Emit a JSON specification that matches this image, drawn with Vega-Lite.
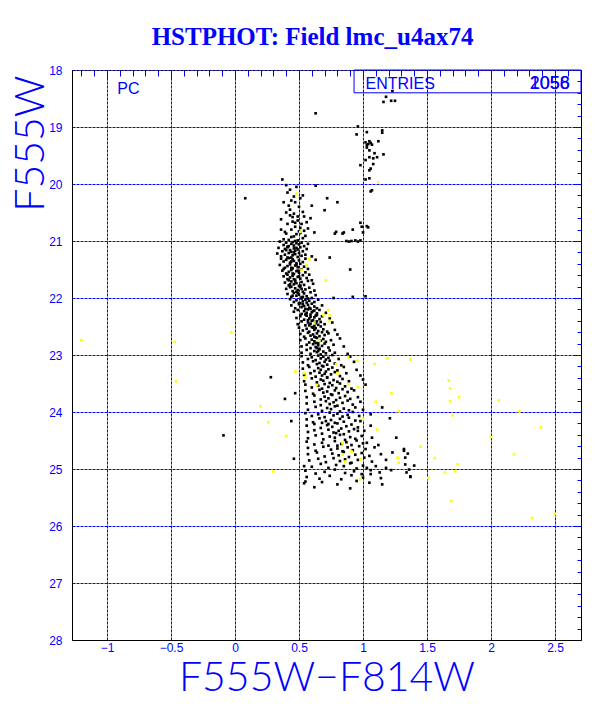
{
"$schema": "https://vega.github.io/schema/vega-lite/v6.json",
"width": 509, "height": 570,
"autosize": "none",
"padding": {"left": 72, "top": 70, "right": 31, "bottom": 69},
"background": "white",
"title": {"text": "HSTPHOT: Field lmc_u4ax74", "font": "Liberation Serif", "fontSize": 25, "fontWeight": "bold", "color": "#0000ff", "anchor": "middle", "dx": -14, "offset": -6, "baseline": "alphabetic"},
"datasets": {
"black": [
{"c":1.23,"m":18.37},{"c":1.18,"m":18.47},{"c":1.16,"m":18.56},{"c":1.22,"m":18.54},{"c":1.25,"m":18.54},{"c":0.63,"m":18.76},
{"c":0.96,"m":18.99},{"c":1.03,"m":19.09},{"c":1.15,"m":19.06},{"c":1.15,"m":19.10},{"c":0.95,"m":19.13},{"c":1.02,"m":19.27},{"c":1.04,"m":19.30},{"c":1.06,"m":19.28},{"c":1.03,"m":19.32},{"c":1.05,"m":19.25},{"c":1.07,"m":19.31},{"c":1.12,"m":19.25},{"c":1.03,"m":19.36},{"c":1.05,"m":19.41},{"c":1.09,"m":19.46},{"c":1.16,"m":19.48},{"c":1.05,"m":19.53},{"c":1.08,"m":19.55},{"c":1.02,"m":19.58},{"c":1.11,"m":19.53},{"c":1.08,"m":19.65},{"c":0.98,"m":19.67},{"c":1.06,"m":19.73},{"c":1.05,"m":19.76},{"c":1.02,"m":19.92},{"c":1.05,"m":19.90},{"c":1.06,"m":20.13},{"c":1.07,"m":20.11},
{"c":0.98,"m":20.68},{"c":0.99,"m":20.75},{"c":1.04,"m":20.76},{"c":1.00,"m":20.85},{"c":1.03,"m":20.74},{"c":0.84,"m":20.87},{"c":0.92,"m":20.80},{"c":0.78,"m":20.87},{"c":0.85,"m":20.85},{"c":0.87,"m":21.00},{"c":0.91,"m":21.00},{"c":0.94,"m":20.99},{"c":0.98,"m":20.99},{"c":0.96,"m":21.01},{"c":0.89,"m":21.01},
{"c":0.63,"m":20.03},{"c":0.72,"m":20.25},{"c":0.80,"m":20.32},{"c":0.70,"m":20.46},{"c":0.60,"m":20.38},{"c":0.79,"m":20.84},{"c":0.74,"m":21.29},{"c":0.90,"m":21.50},{"c":0.77,"m":22.00},{"c":0.92,"m":21.98},{"c":1.02,"m":21.97},{"c":0.08,"m":20.25},{"c":-0.09,"m":24.41},{"c":0.28,"m":23.39},{"c":0.39,"m":23.77},
{"c":0.37,"m":19.92},{"c":0.48,"m":20.05},{"c":0.43,"m":20.10},{"c":0.40,"m":20.02},{"c":0.53,"m":20.20},{"c":0.46,"m":20.22},{"c":0.41,"m":20.15},{"c":0.51,"m":20.25},{"c":0.44,"m":20.29},{"c":0.47,"m":20.32},{"c":0.38,"m":20.32},{"c":0.42,"m":20.38},{"c":0.50,"m":20.40},{"c":0.43,"m":20.45},{"c":0.40,"m":20.50},{"c":0.53,"m":20.49},{"c":0.46,"m":20.52},{"c":0.49,"m":20.57},{"c":0.54,"m":20.57},{"c":0.45,"m":20.58},{"c":0.59,"m":20.60},{"c":0.36,"m":20.62},{"c":0.49,"m":20.64},{"c":0.45,"m":20.66},{"c":0.56,"m":20.67},{"c":0.41,"m":20.70},{"c":0.52,"m":20.70},{"c":0.47,"m":20.75},{"c":0.51,"m":20.77},{"c":0.44,"m":20.80},{"c":0.36,"m":20.80},{"c":0.54,"m":20.82},{"c":0.62,"m":20.85},{"c":0.51,"m":20.86},{"c":0.40,"m":20.87},{"c":0.48,"m":20.88},{"c":0.55,"m":20.91},{"c":0.46,"m":20.92},{"c":0.53,"m":20.95},{"c":0.38,"m":20.97},{"c":0.42,"m":20.98},{"c":0.49,"m":20.99},{"c":0.44,"m":20.93},{"c":0.39,"m":20.84},{"c":0.47,"m":20.68},{"c":0.43,"m":20.55},{"c":0.50,"m":20.83},{"c":0.57,"m":20.78},
{"c":0.35,"m":21.01},{"c":0.38,"m":21.07},{"c":0.40,"m":21.03},{"c":0.42,"m":21.09},{"c":0.44,"m":21.05},{"c":0.45,"m":21.02},{"c":0.46,"m":21.08},{"c":0.48,"m":21.04},{"c":0.50,"m":21.06},{"c":0.52,"m":21.03},{"c":0.54,"m":21.09},{"c":0.57,"m":21.05},{"c":0.41,"m":21.10},{"c":0.47,"m":21.00},
{"c":0.34,"m":21.12},{"c":0.37,"m":21.18},{"c":0.39,"m":21.14},{"c":0.41,"m":21.11},{"c":0.43,"m":21.16},{"c":0.44,"m":21.19},{"c":0.46,"m":21.13},{"c":0.47,"m":21.17},{"c":0.49,"m":21.15},{"c":0.51,"m":21.11},{"c":0.53,"m":21.18},{"c":0.56,"m":21.14},{"c":0.40,"m":21.16},{"c":0.48,"m":21.12},
{"c":0.33,"m":21.22},{"c":0.36,"m":21.27},{"c":0.39,"m":21.24},{"c":0.42,"m":21.21},{"c":0.44,"m":21.29},{"c":0.45,"m":21.25},{"c":0.47,"m":21.23},{"c":0.49,"m":21.28},{"c":0.50,"m":21.21},{"c":0.52,"m":21.26},{"c":0.55,"m":21.24},{"c":0.60,"m":21.27},{"c":0.41,"m":21.29},{"c":0.46,"m":21.20},
{"c":0.36,"m":21.31},{"c":0.38,"m":21.36},{"c":0.40,"m":21.33},{"c":0.43,"m":21.38},{"c":0.45,"m":21.32},{"c":0.46,"m":21.35},{"c":0.48,"m":21.39},{"c":0.50,"m":21.34},{"c":0.53,"m":21.37},{"c":0.55,"m":21.31},{"c":0.44,"m":21.36},{"c":0.42,"m":21.30},{"c":0.63,"m":21.33},
{"c":0.35,"m":21.42},{"c":0.39,"m":21.47},{"c":0.41,"m":21.44},{"c":0.43,"m":21.41},{"c":0.45,"m":21.48},{"c":0.47,"m":21.43},{"c":0.49,"m":21.46},{"c":0.51,"m":21.40},{"c":0.54,"m":21.45},{"c":0.57,"m":21.49},{"c":0.44,"m":21.47},{"c":0.48,"m":21.42},{"c":0.38,"m":21.49},
{"c":0.37,"m":21.52},{"c":0.40,"m":21.57},{"c":0.42,"m":21.54},{"c":0.44,"m":21.51},{"c":0.46,"m":21.58},{"c":0.48,"m":21.53},{"c":0.50,"m":21.56},{"c":0.52,"m":21.50},{"c":0.55,"m":21.55},{"c":0.58,"m":21.59},{"c":0.45,"m":21.57},{"c":0.49,"m":21.52},{"c":0.41,"m":21.59},
{"c":0.38,"m":21.62},{"c":0.41,"m":21.67},{"c":0.43,"m":21.64},{"c":0.45,"m":21.61},{"c":0.47,"m":21.68},{"c":0.49,"m":21.63},{"c":0.51,"m":21.66},{"c":0.53,"m":21.60},{"c":0.56,"m":21.65},{"c":0.60,"m":21.69},{"c":0.46,"m":21.67},{"c":0.50,"m":21.62},{"c":0.42,"m":21.69},
{"c":0.39,"m":21.73},{"c":0.42,"m":21.78},{"c":0.44,"m":21.71},{"c":0.46,"m":21.76},{"c":0.48,"m":21.74},{"c":0.50,"m":21.79},{"c":0.52,"m":21.72},{"c":0.54,"m":21.77},{"c":0.57,"m":21.70},{"c":0.61,"m":21.75},{"c":0.47,"m":21.71},{"c":0.51,"m":21.78},{"c":0.43,"m":21.76},
{"c":0.40,"m":21.84},{"c":0.43,"m":21.81},{"c":0.45,"m":21.88},{"c":0.47,"m":21.83},{"c":0.49,"m":21.86},{"c":0.51,"m":21.80},{"c":0.53,"m":21.89},{"c":0.55,"m":21.85},{"c":0.58,"m":21.82},{"c":0.62,"m":21.87},{"c":0.48,"m":21.89},{"c":0.52,"m":21.84},{"c":0.44,"m":21.80},
{"c":0.41,"m":21.93},{"c":0.44,"m":21.98},{"c":0.46,"m":21.91},{"c":0.48,"m":21.96},{"c":0.50,"m":21.94},{"c":0.52,"m":21.99},{"c":0.54,"m":21.92},{"c":0.56,"m":21.97},{"c":0.59,"m":21.90},{"c":0.63,"m":21.95},{"c":0.49,"m":21.91},{"c":0.53,"m":21.98},{"c":0.45,"m":21.96},
{"c":0.43,"m":22.02},{"c":0.46,"m":22.07},{"c":0.48,"m":22.04},{"c":0.50,"m":22.09},{"c":0.52,"m":22.01},{"c":0.53,"m":22.06},{"c":0.55,"m":22.03},{"c":0.56,"m":22.08},{"c":0.58,"m":22.05},{"c":0.60,"m":22.00},{"c":0.62,"m":22.07},{"c":0.65,"m":22.03},{"c":0.51,"m":22.09},{"c":0.57,"m":22.01},
{"c":0.44,"m":22.13},{"c":0.47,"m":22.18},{"c":0.50,"m":22.11},{"c":0.52,"m":22.16},{"c":0.54,"m":22.14},{"c":0.55,"m":22.19},{"c":0.57,"m":22.12},{"c":0.58,"m":22.17},{"c":0.60,"m":22.10},{"c":0.62,"m":22.15},{"c":0.64,"m":22.18},{"c":0.68,"m":22.13},{"c":0.53,"m":22.11},{"c":0.59,"m":22.19},
{"c":0.46,"m":22.24},{"c":0.49,"m":22.21},{"c":0.52,"m":22.28},{"c":0.54,"m":22.23},{"c":0.56,"m":22.26},{"c":0.57,"m":22.20},{"c":0.59,"m":22.29},{"c":0.60,"m":22.25},{"c":0.62,"m":22.22},{"c":0.64,"m":22.27},{"c":0.66,"m":22.21},{"c":0.71,"m":22.26},{"c":0.55,"m":22.29},{"c":0.61,"m":22.23},
{"c":0.48,"m":22.35},{"c":0.51,"m":22.32},{"c":0.54,"m":22.38},{"c":0.56,"m":22.31},{"c":0.58,"m":22.36},{"c":0.59,"m":22.33},{"c":0.61,"m":22.39},{"c":0.62,"m":22.34},{"c":0.64,"m":22.30},{"c":0.66,"m":22.37},{"c":0.68,"m":22.32},{"c":0.74,"m":22.36},{"c":0.57,"m":22.39},{"c":0.63,"m":22.31},
{"c":0.49,"m":22.46},{"c":0.52,"m":22.41},{"c":0.55,"m":22.48},{"c":0.57,"m":22.43},{"c":0.59,"m":22.45},{"c":0.60,"m":22.40},{"c":0.62,"m":22.49},{"c":0.63,"m":22.44},{"c":0.65,"m":22.47},{"c":0.67,"m":22.42},{"c":0.70,"m":22.46},{"c":0.76,"m":22.43},{"c":0.58,"m":22.48},{"c":0.64,"m":22.41},
{"c":0.50,"m":22.52},{"c":0.53,"m":22.57},{"c":0.56,"m":22.54},{"c":0.58,"m":22.59},{"c":0.60,"m":22.51},{"c":0.62,"m":22.56},{"c":0.63,"m":22.53},{"c":0.65,"m":22.58},{"c":0.67,"m":22.50},{"c":0.69,"m":22.55},{"c":0.72,"m":22.59},{"c":0.61,"m":22.52},{"c":0.78,"m":22.56},
{"c":0.51,"m":22.63},{"c":0.54,"m":22.68},{"c":0.57,"m":22.61},{"c":0.59,"m":22.66},{"c":0.61,"m":22.64},{"c":0.63,"m":22.69},{"c":0.64,"m":22.62},{"c":0.66,"m":22.67},{"c":0.68,"m":22.60},{"c":0.70,"m":22.65},{"c":0.73,"m":22.62},{"c":0.62,"m":22.68},{"c":0.80,"m":22.64},
{"c":0.51,"m":22.74},{"c":0.55,"m":22.71},{"c":0.58,"m":22.78},{"c":0.60,"m":22.73},{"c":0.62,"m":22.76},{"c":0.64,"m":22.70},{"c":0.65,"m":22.79},{"c":0.67,"m":22.75},{"c":0.69,"m":22.72},{"c":0.71,"m":22.77},{"c":0.75,"m":22.74},{"c":0.63,"m":22.79},{"c":0.82,"m":22.71},
{"c":0.52,"m":22.85},{"c":0.56,"m":22.82},{"c":0.59,"m":22.88},{"c":0.61,"m":22.81},{"c":0.63,"m":22.86},{"c":0.65,"m":22.83},{"c":0.66,"m":22.89},{"c":0.68,"m":22.84},{"c":0.70,"m":22.80},{"c":0.73,"m":22.87},{"c":0.77,"m":22.82},{"c":0.64,"m":22.88},{"c":0.85,"m":22.85},
{"c":0.52,"m":22.96},{"c":0.56,"m":22.91},{"c":0.59,"m":22.98},{"c":0.62,"m":22.93},{"c":0.64,"m":22.95},{"c":0.66,"m":22.90},{"c":0.67,"m":22.99},{"c":0.69,"m":22.94},{"c":0.71,"m":22.97},{"c":0.74,"m":22.92},{"c":0.78,"m":22.96},{"c":0.65,"m":22.93},{"c":0.88,"m":22.98},
{"c":0.52,"m":23.02},{"c":0.57,"m":23.07},{"c":0.60,"m":23.04},{"c":0.63,"m":23.09},{"c":0.65,"m":23.01},{"c":0.67,"m":23.06},{"c":0.69,"m":23.03},{"c":0.71,"m":23.08},{"c":0.73,"m":23.05},{"c":0.76,"m":23.00},{"c":0.81,"m":23.07},{"c":0.90,"m":23.03},
{"c":0.53,"m":23.13},{"c":0.57,"m":23.18},{"c":0.61,"m":23.11},{"c":0.64,"m":23.16},{"c":0.66,"m":23.14},{"c":0.68,"m":23.19},{"c":0.70,"m":23.12},{"c":0.72,"m":23.17},{"c":0.74,"m":23.10},{"c":0.78,"m":23.15},{"c":0.83,"m":23.18},{"c":0.93,"m":23.12},
{"c":0.53,"m":23.24},{"c":0.58,"m":23.21},{"c":0.62,"m":23.28},{"c":0.65,"m":23.23},{"c":0.67,"m":23.26},{"c":0.69,"m":23.20},{"c":0.71,"m":23.29},{"c":0.73,"m":23.25},{"c":0.76,"m":23.22},{"c":0.80,"m":23.27},{"c":0.85,"m":23.21},{"c":0.95,"m":23.26},
{"c":0.54,"m":23.35},{"c":0.59,"m":23.32},{"c":0.63,"m":23.38},{"c":0.66,"m":23.31},{"c":0.68,"m":23.36},{"c":0.70,"m":23.33},{"c":0.72,"m":23.39},{"c":0.75,"m":23.34},{"c":0.78,"m":23.30},{"c":0.82,"m":23.37},{"c":0.87,"m":23.32},{"c":0.98,"m":23.36},
{"c":0.54,"m":23.46},{"c":0.60,"m":23.41},{"c":0.64,"m":23.48},{"c":0.67,"m":23.43},{"c":0.69,"m":23.45},{"c":0.72,"m":23.40},{"c":0.74,"m":23.49},{"c":0.77,"m":23.44},{"c":0.80,"m":23.47},{"c":0.84,"m":23.42},{"c":0.89,"m":23.46},{"c":1.00,"m":23.43},
{"c":0.55,"m":23.52},{"c":0.60,"m":23.57},{"c":0.65,"m":23.54},{"c":0.68,"m":23.59},{"c":0.70,"m":23.51},{"c":0.73,"m":23.56},{"c":0.76,"m":23.53},{"c":0.79,"m":23.58},{"c":0.82,"m":23.50},{"c":0.86,"m":23.55},{"c":0.91,"m":23.59},{"c":1.02,"m":23.52},
{"c":0.55,"m":23.63},{"c":0.61,"m":23.68},{"c":0.66,"m":23.61},{"c":0.69,"m":23.66},{"c":0.72,"m":23.64},{"c":0.75,"m":23.69},{"c":0.78,"m":23.62},{"c":0.81,"m":23.67},{"c":0.84,"m":23.60},{"c":0.88,"m":23.65},{"c":0.93,"m":23.62},{"c":0.47,"m":23.67},
{"c":0.56,"m":23.74},{"c":0.62,"m":23.71},{"c":0.67,"m":23.78},{"c":0.70,"m":23.73},{"c":0.73,"m":23.76},{"c":0.76,"m":23.70},{"c":0.79,"m":23.79},{"c":0.82,"m":23.75},{"c":0.86,"m":23.72},{"c":0.90,"m":23.77},{"c":0.96,"m":23.74},
{"c":0.56,"m":23.85},{"c":0.62,"m":23.82},{"c":0.67,"m":23.88},{"c":0.71,"m":23.81},{"c":0.74,"m":23.86},{"c":0.77,"m":23.83},{"c":0.80,"m":23.89},{"c":0.84,"m":23.84},{"c":0.88,"m":23.80},{"c":0.92,"m":23.87},{"c":0.98,"m":23.82},{"c":1.15,"m":23.92},
{"c":0.57,"m":23.96},{"c":0.63,"m":23.91},{"c":0.68,"m":23.98},{"c":0.72,"m":23.93},{"c":0.75,"m":23.95},{"c":0.78,"m":23.90},{"c":0.82,"m":23.99},{"c":0.85,"m":23.94},{"c":0.89,"m":23.97},{"c":0.94,"m":23.92},{"c":1.00,"m":23.96},{"c":1.06,"m":24.04},
{"c":0.55,"m":24.02},{"c":0.60,"m":24.07},{"c":0.65,"m":24.04},{"c":0.70,"m":24.09},{"c":0.74,"m":24.01},{"c":0.77,"m":24.06},{"c":0.80,"m":24.03},{"c":0.84,"m":24.08},{"c":0.88,"m":24.05},{"c":0.92,"m":24.00},{"c":0.97,"m":24.07},{"c":0.44,"m":24.16},{"c":0.98,"m":24.16},
{"c":0.56,"m":24.13},{"c":0.61,"m":24.18},{"c":0.66,"m":24.11},{"c":0.71,"m":24.16},{"c":0.75,"m":24.14},{"c":0.78,"m":24.19},{"c":0.82,"m":24.12},{"c":0.85,"m":24.17},{"c":0.89,"m":24.10},{"c":0.94,"m":24.15},{"c":1.21,"m":24.11},{"c":0.68,"m":24.19},
{"c":0.56,"m":24.24},{"c":0.62,"m":24.21},{"c":0.67,"m":24.28},{"c":0.72,"m":24.23},{"c":0.76,"m":24.26},{"c":0.80,"m":24.20},{"c":0.83,"m":24.29},{"c":0.87,"m":24.25},{"c":0.91,"m":24.22},{"c":0.96,"m":24.27},{"c":1.06,"m":24.24},{"c":0.73,"m":24.21},
{"c":0.57,"m":24.35},{"c":0.62,"m":24.32},{"c":0.68,"m":24.38},{"c":0.73,"m":24.31},{"c":0.77,"m":24.36},{"c":0.81,"m":24.33},{"c":0.85,"m":24.39},{"c":0.89,"m":24.34},{"c":0.93,"m":24.30},{"c":0.96,"m":24.33},{"c":1.01,"m":24.33},{"c":0.79,"m":24.37},
{"c":0.57,"m":24.46},{"c":0.63,"m":24.41},{"c":0.69,"m":24.48},{"c":0.74,"m":24.43},{"c":0.78,"m":24.45},{"c":0.82,"m":24.40},{"c":0.86,"m":24.49},{"c":0.90,"m":24.44},{"c":0.94,"m":24.47},{"c":0.99,"m":24.42},{"c":1.07,"m":24.45},{"c":1.26,"m":24.45},{"c":1.03,"m":24.54},
{"c":0.56,"m":24.52},{"c":0.62,"m":24.57},{"c":0.68,"m":24.54},{"c":0.73,"m":24.59},{"c":0.78,"m":24.51},{"c":0.83,"m":24.56},{"c":0.87,"m":24.53},{"c":0.91,"m":24.58},{"c":0.95,"m":24.50},{"c":1.00,"m":24.55},{"c":1.12,"m":24.58},{"c":0.80,"m":24.59},
{"c":0.57,"m":24.63},{"c":0.63,"m":24.68},{"c":0.69,"m":24.61},{"c":0.75,"m":24.66},{"c":0.80,"m":24.64},{"c":0.84,"m":24.69},{"c":0.88,"m":24.62},{"c":0.92,"m":24.67},{"c":0.97,"m":24.60},{"c":1.02,"m":24.65},{"c":1.09,"m":24.62},{"c":1.32,"m":24.65},{"c":1.23,"m":24.71},
{"c":0.57,"m":24.74},{"c":0.64,"m":24.71},{"c":0.70,"m":24.78},{"c":0.76,"m":24.73},{"c":0.81,"m":24.76},{"c":0.85,"m":24.70},{"c":0.89,"m":24.79},{"c":0.94,"m":24.75},{"c":0.99,"m":24.72},{"c":1.05,"m":24.77},{"c":1.14,"m":24.74},{"c":1.35,"m":24.73},{"c":1.32,"m":24.68},
{"c":0.46,"m":24.82},{"c":0.58,"m":24.85},{"c":0.65,"m":24.82},{"c":0.71,"m":24.88},{"c":0.77,"m":24.81},{"c":0.82,"m":24.86},{"c":0.86,"m":24.83},{"c":0.91,"m":24.89},{"c":0.96,"m":24.84},{"c":1.01,"m":24.80},{"c":1.07,"m":24.87},{"c":1.18,"m":24.84},{"c":1.33,"m":24.80},
{"c":0.54,"m":24.95},{"c":0.60,"m":24.96},{"c":0.67,"m":24.91},{"c":0.73,"m":24.98},{"c":0.79,"m":24.93},{"c":0.85,"m":24.95},{"c":0.90,"m":24.90},{"c":0.95,"m":24.99},{"c":1.00,"m":24.94},{"c":1.03,"m":24.98},{"c":1.10,"m":24.95},{"c":1.18,"m":24.98},{"c":1.40,"m":24.94},{"c":1.33,"m":24.92},
{"c":0.55,"m":25.03},{"c":0.63,"m":25.08},{"c":0.70,"m":25.05},{"c":0.78,"m":25.01},{"c":0.86,"m":25.07},{"c":0.93,"m":25.04},{"c":0.99,"m":25.09},{"c":1.06,"m":25.02},{"c":1.13,"m":25.06},{"c":1.22,"m":25.02},{"c":1.34,"m":25.06},{"c":1.37,"m":25.13},{"c":1.36,"m":25.01},
{"c":0.56,"m":25.14},{"c":0.66,"m":25.17},{"c":0.74,"m":25.12},{"c":0.83,"m":25.18},{"c":0.91,"m":25.11},{"c":1.00,"m":25.15},{"c":1.06,"m":25.09},{"c":1.14,"m":25.16},{"c":1.37,"m":25.14},
{"c":0.54,"m":25.25},{"c":0.55,"m":25.22},{"c":0.68,"m":25.23},{"c":0.80,"m":25.27},{"c":0.95,"m":25.21},{"c":1.05,"m":25.24},{"c":1.15,"m":25.27},
{"c":0.62,"m":25.32},{"c":0.90,"m":25.34}
],
"yellow": [
{"c":-1.20,"m":22.74},{"c":-0.47,"m":22.77},{"c":-0.03,"m":22.60},{"c":-0.46,"m":23.46},{"c":0.20,"m":23.90},{"c":0.26,"m":24.18},
{"c":0.48,"m":20.17},{"c":1.12,"m":19.97},{"c":0.51,"m":20.84},{"c":0.58,"m":21.32},{"c":0.56,"m":21.42},{"c":0.52,"m":21.51},{"c":0.71,"m":21.69},{"c":0.73,"m":22.21},{"c":0.69,"m":22.30},{"c":0.74,"m":22.30},{"c":0.74,"m":22.40},{"c":0.66,"m":22.75},{"c":0.62,"m":22.44},
{"c":0.885,"m":23.04},{"c":0.955,"m":23.10},{"c":1.09,"m":23.16},{"c":1.19,"m":23.06},{"c":1.37,"m":23.08},{"c":0.79,"m":23.16},{"c":0.47,"m":23.29},{"c":0.54,"m":23.32},{"c":0.55,"m":23.39},{"c":0.80,"m":23.32},{"c":0.64,"m":23.53},{"c":0.885,"m":23.51},{"c":0.96,"m":23.56},{"c":1.22,"m":23.67},{"c":1.10,"m":23.82},{"c":1.28,"m":23.99},{"c":1.00,"m":24.12},{"c":0.40,"m":24.42},{"c":1.11,"m":24.31},{"c":0.84,"m":24.55},{"c":0.84,"m":24.75},{"c":0.91,"m":24.69},{"c":1.27,"m":24.80},{"c":1.28,"m":24.89},{"c":0.86,"m":24.87},{"c":0.98,"m":24.83},{"c":0.30,"m":25.04},{"c":0.98,"m":25.18},{"c":1.45,"m":24.61},
{"c":1.67,"m":23.45},{"c":1.68,"m":23.59},{"c":1.68,"m":23.81},{"c":1.75,"m":23.74},{"c":2.06,"m":23.80},{"c":2.22,"m":23.99},{"c":2.39,"m":24.27},{"c":1.70,"m":24.06},{"c":2.00,"m":24.44},{"c":2.18,"m":24.74},{"c":1.56,"m":24.81},{"c":1.74,"m":24.92},{"c":1.64,"m":25.06},{"c":1.72,"m":25.04},{"c":1.51,"m":25.16},{"c":1.69,"m":25.56},{"c":2.32,"m":25.86},{"c":2.50,"m":25.79}
],
"box": [{"c": 0.93, "c2": 2.703125, "m": 18.0, "m2": 18.40}],
"textL": [{"c": 1.02, "m": 18.335, "t": "ENTRIES"}, {"c": -0.92, "m": 18.42, "t": "PC"}],
"textR": [{"c": 2.615, "m": 18.335, "t": "1058"}, {"c": 2.615, "m": 18.335, "t": "2056"}]
},
"layer": [
{"data": {"name": "black"},
 "mark": {"type": "square", "size": 7, "color": "black", "opacity": 1, "strokeWidth": 0},
 "encoding": {
  "x": {"field": "c", "type": "quantitative", "scale": {"domain": [-1.2734375, 2.703125], "nice": false, "zero": false},
        "axis": {"values": [-1, -0.5, 0, 0.5, 1, 1.5, 2, 2.5], "format": ".1~f", "ticks": false, "grid": true, "gridColor": "#0000ff", "gridDash": [3, 1], "gridWidth": 1, "gridOpacity": 1, "domain": true, "domainColor": "black", "labelColor": "#0000ff", "labelFont": "Liberation Sans", "labelFontSize": 12, "labelPadding": 2, "labelFlush": false, "labelOverlap": false, "labelBound": false,
                 "title": "F555W−F814W", "titleFont": "Lato", "titleFontSize": 41, "titleFontWeight": 300, "titleColor": "#0000ff", "titleBaseline": "alphabetic", "titleY": 50, "titleAnchor": "middle"}},
  "y": {"field": "m", "type": "quantitative", "scale": {"domain": [18, 28], "reverse": true, "nice": false, "zero": false},
        "axis": {"values": [18, 19, 20, 21, 22, 23, 24, 25, 26, 27, 28], "format": "d", "ticks": false, "grid": true, "gridColor": "#0000ff", "gridDash": [3, 1], "gridWidth": 1, "gridOpacity": 1, "domain": true, "domainColor": "black", "labelColor": "#0000ff", "labelFont": "Liberation Sans", "labelFontSize": 12, "labelPadding": 10, "labelFlush": false, "labelOverlap": false, "labelBound": false,
                 "title": "F555W", "titleFont": "Lato", "titleFontSize": 41, "titleFontWeight": 300, "titleColor": "#0000ff", "titleAngle": 270, "titleAnchor": "end", "titleAlign": "right", "titleBaseline": "alphabetic", "titleX": -29, "titleY": 5}}
 }},
{"data": {"name": "yellow"},
 "mark": {"type": "square", "size": 7, "color": "#ffff00", "opacity": 1, "strokeWidth": 0},
 "encoding": {
  "x": {"field": "c", "type": "quantitative",
        "axis": {"values": [-1.2,-1.1,-1,-0.9,-0.8,-0.7,-0.6,-0.5,-0.4,-0.3,-0.2,-0.1,0,0.1,0.2,0.3,0.4,0.5,0.6,0.7,0.8,0.9,1,1.1,1.2,1.3,1.4,1.5,1.6,1.7,1.8,1.9,2,2.1,2.2,2.3,2.4,2.5,2.6,2.7], "labels": false, "grid": false, "domain": false, "ticks": true, "tickSize": -6, "tickColor": "#0000ff", "tickWidth": 1, "title": null}},
  "y": {"field": "m", "type": "quantitative",
        "axis": {"values": [18.2,18.4,18.6,18.8,19.2,19.4,19.6,19.8,20.2,20.4,20.6,20.8,21.2,21.4,21.6,21.8,22.2,22.4,22.6,22.8,23.2,23.4,23.6,23.8,24.2,24.4,24.6,24.8,25.2,25.4,25.6,25.8,26.2,26.4,26.6,26.8,27.2,27.4,27.6,27.8], "labels": false, "grid": false, "domain": false, "ticks": true, "tickSize": -4, "tickColor": "#0000ff", "tickWidth": 1, "title": null}}
 }},
{"data": {"name": "box"},
 "mark": {"type": "rect", "filled": false, "stroke": "#0000ff", "strokeWidth": 1},
 "encoding": {
  "x": {"field": "c", "type": "quantitative",
        "axis": {"values": [-1, -0.5, 0, 0.5, 1, 1.5, 2, 2.5], "labels": false, "grid": false, "domain": false, "ticks": true, "tickSize": -10, "tickColor": "#0000ff", "tickWidth": 1, "title": null}},
  "x2": {"field": "c2"},
  "y": {"field": "m", "type": "quantitative",
        "axis": {"values": [19, 20, 21, 22, 23, 24, 25, 26, 27], "labels": false, "grid": false, "domain": false, "ticks": true, "tickSize": -8, "tickColor": "#0000ff", "tickWidth": 1, "title": null}},
  "y2": {"field": "m2"}
 }},
{"data": {"name": "textL"},
 "mark": {"type": "text", "align": "left", "baseline": "alphabetic", "font": "Liberation Sans", "fontSize": 16, "color": "#0000ff"},
 "encoding": {
  "x": {"field": "c", "type": "quantitative",
        "axis": {"orient": "top", "labels": false, "ticks": false, "grid": false, "domain": true, "domainColor": "black", "domainDash": [1, 1], "domainWidth": 1, "title": null}},
  "y": {"field": "m", "type": "quantitative", "axis": null},
  "text": {"field": "t"}
 }},
{"data": {"name": "textR"},
 "mark": {"type": "text", "align": "right", "baseline": "alphabetic", "font": "Liberation Sans", "fontSize": 18, "color": "#0000ff"},
 "encoding": {
  "x": {"field": "c", "type": "quantitative", "axis": null},
  "y": {"field": "m", "type": "quantitative",
        "axis": {"orient": "right", "labels": false, "ticks": false, "grid": false, "domain": true, "domainColor": "black", "domainWidth": 1, "title": null}},
  "text": {"field": "t"}
 }}
],
"resolve": {"axis": {"x": "independent", "y": "independent"}},
"config": {"view": {"stroke": null}, "axis": {"gridColor": "#0000ff", "tickColor": "#0000ff", "labelColor": "#0000ff", "domainColor": "black"}}
}
